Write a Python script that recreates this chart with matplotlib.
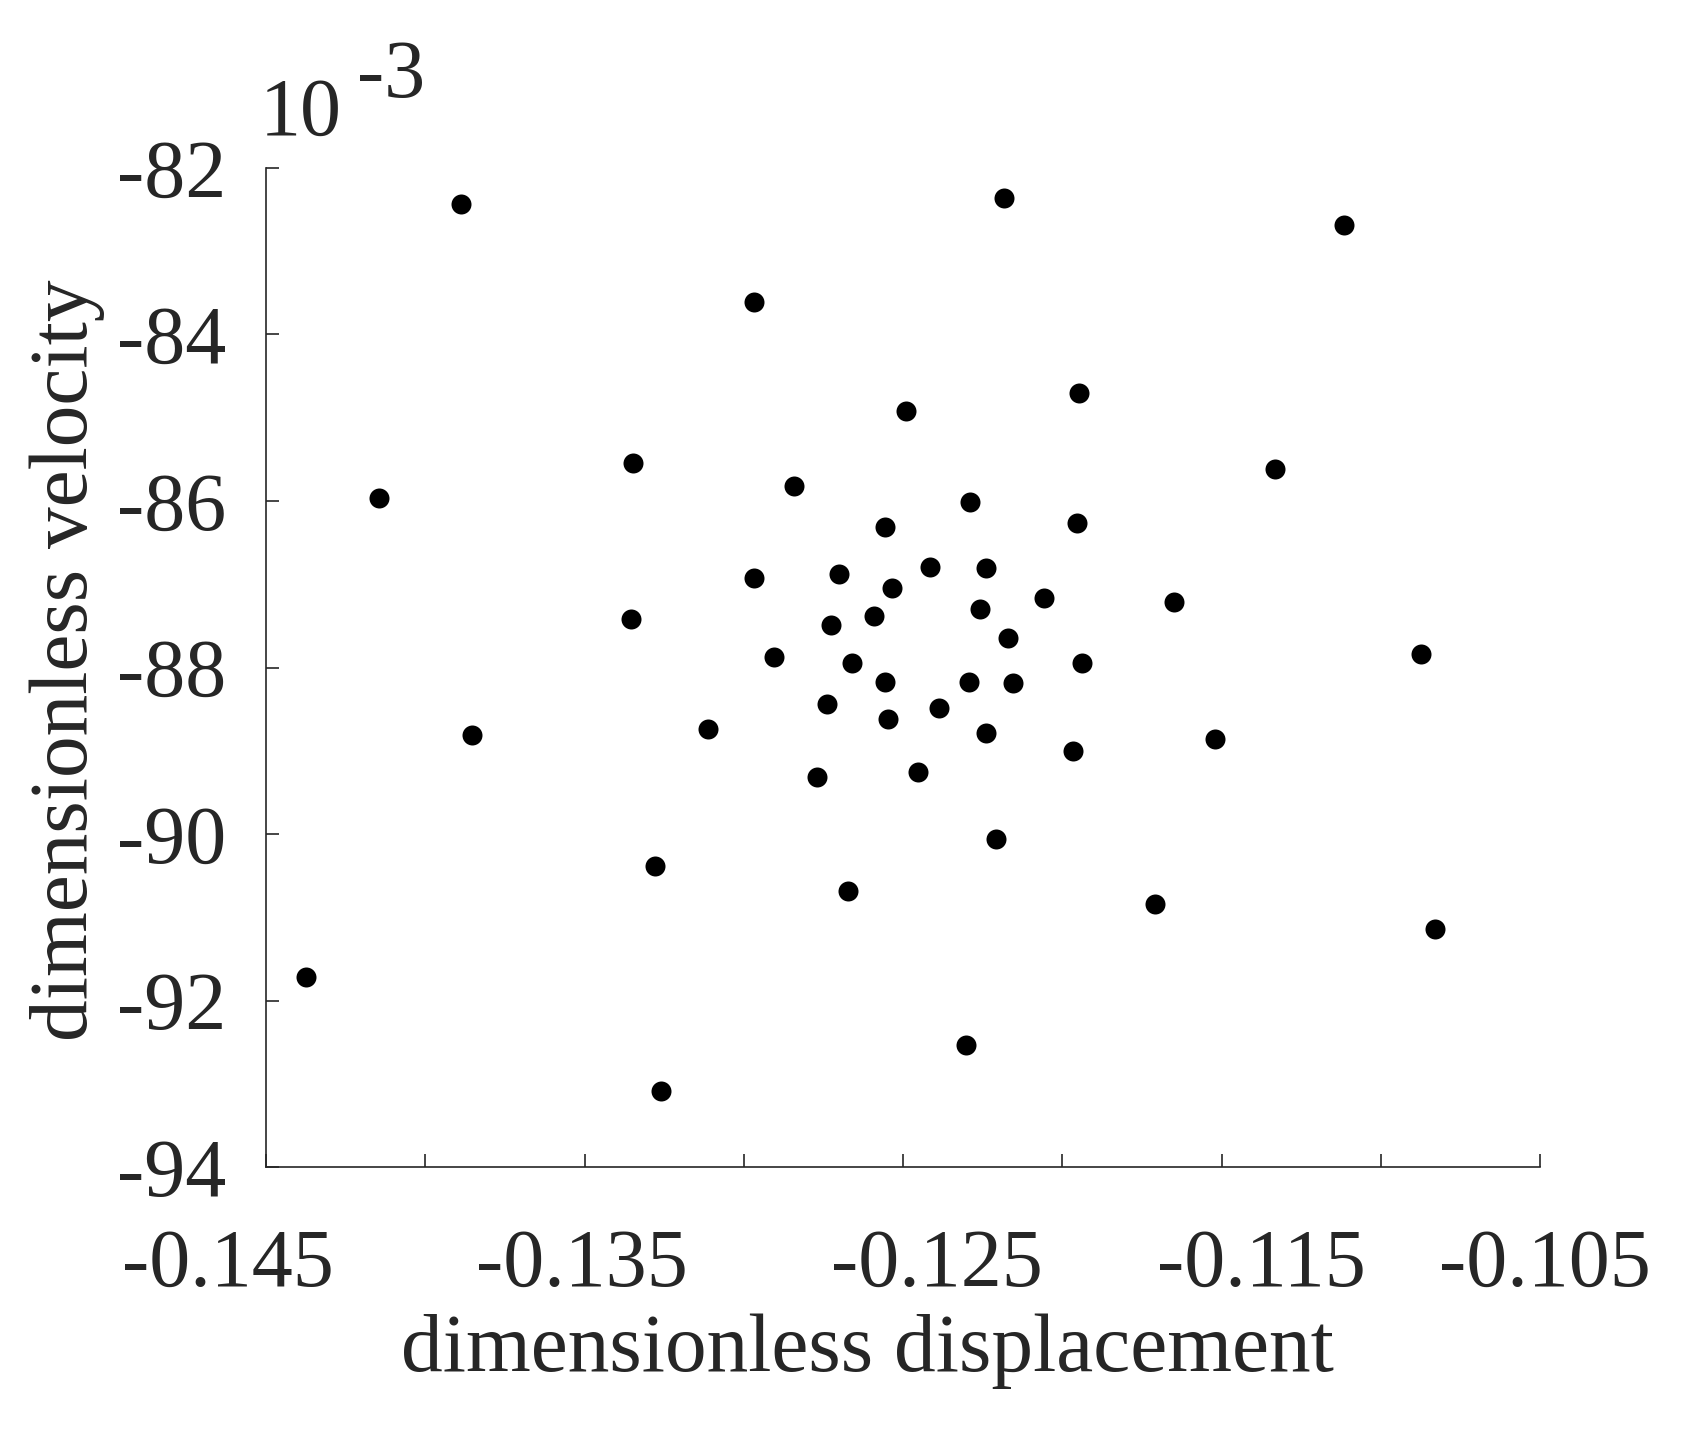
import numpy as np
import matplotlib
matplotlib.use("Agg")
import matplotlib.pyplot as plt
import matplotlib.ticker as mticker
from matplotlib.transforms import blended_transform_factory, ScaledTranslation

plt.rcParams["font.family"] = ["Liberation Serif", "DejaVu Serif"]
plt.rcParams["axes.unicode_minus"] = False

# data (velocity in units of 10^-3)
displacement = [
    -0.13888, -0.12182, -0.11115, -0.12967, -0.11948, -0.12491, -0.13348,
    -0.11333, -0.12842, -0.14147, -0.12291, -0.11955, -0.12556, -0.12417,
    -0.12240, -0.12702, -0.12967, -0.12536, -0.12057, -0.11649, -0.12260,
    -0.12590, -0.13355, -0.12726, -0.12172, -0.12906, -0.10874, -0.12661,
    -0.11938, -0.12556, -0.12294, -0.12155, -0.12740, -0.12386, -0.12546,
    -0.13113, -0.13854, -0.12240, -0.11520, -0.11968, -0.12454, -0.12770,
    -0.12209, -0.13280, -0.12672, -0.11710, -0.10830, -0.14374, -0.12301,
    -0.13260,
]
velocity = [
    -82.43, -82.36, -82.69, -83.61, -84.71, -84.92, -85.55,
    -85.62, -85.82, -85.97, -86.01, -86.26, -86.31, -86.79,
    -86.81, -86.88, -86.92, -87.04, -87.17, -87.21, -87.30,
    -87.38, -87.42, -87.49, -87.64, -87.87, -87.84, -87.94,
    -87.95, -88.17, -88.17, -88.18, -88.44, -88.48, -88.62,
    -88.74, -88.81, -88.79, -88.86, -89.00, -89.26, -89.32,
    -90.06, -90.38, -90.68, -90.84, -91.14, -91.71, -92.53,
    -93.09,
]

x_ticks = np.arange(-0.145, -0.1049, 0.005)
x_label_ticks = [-0.145, -0.135, -0.125, -0.115, -0.105]
x_ticklabels = ["-0.145", "-0.135", "-0.125", "-0.115", "-0.105"]
# the labels in the original sit a little off their ticks (pixels)
x_label_shift = [-38, -3, 34, 40, 5]
y_ticks = [-94, -92, -90, -88, -86, -84, -82]
y_ticklabels = ["-94", "-92", "-90", "-88", "-86", "-84", "-82"]

INK = "#262626"
FS = 59
FS_LAB = 60

fig = plt.figure(figsize=(16.96, 14.34), dpi=100)
ax = fig.add_axes([0.157, 0.186, 0.751, 0.697])

ax.plot(displacement, velocity, "o", color="black", markersize=14.4,
        markeredgewidth=0, linestyle="none")

ax.set_xlim(-0.145, -0.105)
ax.set_ylim(-94, -82)
ax.xaxis.set_major_locator(mticker.FixedLocator(x_ticks))
ax.xaxis.set_major_formatter(mticker.NullFormatter())
ax.yaxis.set_major_locator(mticker.FixedLocator(y_ticks))
ax.yaxis.set_major_formatter(mticker.FixedFormatter(y_ticklabels))

for s in ["top", "right"]:
    ax.spines[s].set_visible(False)
for s in ["left", "bottom"]:
    ax.spines[s].set_linewidth(1.2)
    ax.spines[s].set_color(INK)

ax.tick_params(axis="both", direction="in", length=9.4, width=1.2,
               color=INK, labelcolor=INK, labelsize=FS)
ax.tick_params(axis="y", pad=29)

# x tick labels drawn as texts so each can be nudged like the original
xtrans = blended_transform_factory(ax.transData, ax.transAxes)
for val, lab, dx in zip(x_label_ticks, x_ticklabels, x_label_shift):
    off = ScaledTranslation(dx / 100, -61 / 100, fig.dpi_scale_trans)
    ax.text(val, 0, lab, transform=xtrans + off, ha="center", va="top",
            fontsize=FS, color=INK)

ax.set_xlabel("dimensionless displacement", fontsize=FS_LAB, color=INK)
ax.set_ylabel("dimensionless velocity", fontsize=FS_LAB, color=INK)
ax.xaxis.set_label_coords(0.472, -0.146)
ax.yaxis.set_label_coords(-0.127, 0.5076)

# MATLAB-style exponent label
fig.text(260 / 1696, 1 - 135 / 1434, "10", fontsize=FS, color=INK,
         ha="left", va="baseline")
fig.text(357 / 1696, 1 - 97 / 1434, "-3", fontsize=FS, color=INK,
         ha="left", va="baseline")

fig.savefig("out.png", dpi=100)
